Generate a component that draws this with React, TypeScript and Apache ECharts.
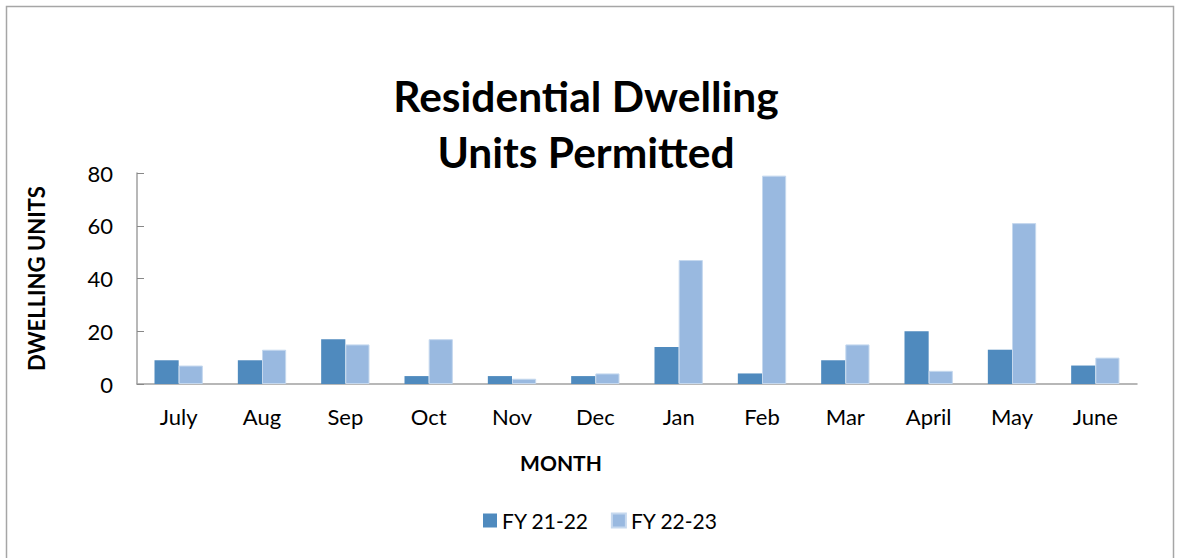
import React, { useEffect, useRef } from "react";
import * as echarts from "echarts";

const months = ["July", "Aug", "Sep", "Oct", "Nov", "Dec", "Jan", "Feb", "Mar", "April", "May", "June"];
const fy2122 = [9, 9, 17, 3, 3, 3, 14, 4, 9, 20, 13, 7];
const fy2223 = [7, 13, 15, 17, 2, 4, 47, 79, 15, 5, 61, 10];
const yTicks = { min: 0, max: 80, interval: 20 };

const FONT = "Lato, 'Open Sans', sans-serif";

export default function App() {
  const ref = useRef<HTMLDivElement>(null);
  useEffect(() => {
    if (!ref.current) return;
    const chart = echarts.init(ref.current, undefined, { renderer: "svg" });
    chart.setOption({
      animation: false,
      backgroundColor: "#ffffff",
      textStyle: { fontFamily: FONT },
      title: {
        text: "Residential Dwelling\nUnits Permitted",
        left: 581,
        textAlign: "center",
        top: 62,
        textStyle: { fontSize: 42.5, fontWeight: "bold", color: "#000", lineHeight: 56, fontFamily: FONT },
      },
      graphic: [
        {
          type: "rect",
          shape: { x: 6.5, y: 6.5, width: 1167, height: 560 },
          style: { fill: "none", stroke: "#a6a6a6", lineWidth: 1.5 },
          silent: true,
        },
        {
          type: "text",
          x: 561,
          y: 462,
          style: {
            text: "MONTH",
            fontSize: 21,
            fontWeight: "bold",
            fill: "#000",
            fontFamily: FONT,
            align: "center",
            verticalAlign: "middle",
          },
          silent: true,
        },
      ],
      legend: {
        bottom: 22,
        left: 478,
        itemWidth: 14,
        itemHeight: 14,
        itemGap: 22,
        icon: "rect",
        textStyle: { fontSize: 21, color: "#000", fontFamily: FONT },
        data: ["FY 21-22", "FY 22-23"],
      },
      grid: { left: 137, right: 41, top: 173, bottom: 174, containLabel: false },
      xAxis: {
        type: "category",
        data: months,
        axisLine: { lineStyle: { color: "#a0a0a0", width: 1.5 } },
        axisTick: { inside: true, length: 7, lineStyle: { color: "#888" } },
        axisLabel: { fontSize: 22, color: "#000", margin: 21, fontFamily: FONT },
      },
      yAxis: {
        type: "value",
        min: yTicks.min,
        max: yTicks.max,
        interval: yTicks.interval,
        name: "DWELLING UNITS",
        nameLocation: "middle",
        nameGap: 90,
        nameRotate: 90,
        nameTextStyle: { fontSize: 22, fontWeight: "bold", color: "#000", fontFamily: FONT },
        axisLine: { show: true, lineStyle: { color: "#a0a0a0", width: 1.5 } },
        axisTick: { show: true, inside: true, length: 7, lineStyle: { color: "#888" } },
        splitLine: { show: false },
        axisLabel: { fontSize: 22, color: "#000", margin: 24, fontFamily: FONT },
      },
      series: [
        {
          name: "FY 21-22",
          type: "bar",
          data: fy2122,
          barGap: "0%",
          barCategoryGap: "42%",
          itemStyle: { color: "#4f8abe" },
        },
        {
          name: "FY 22-23",
          type: "bar",
          data: fy2223,
          itemStyle: { color: "#99b9e0", borderColor: "#c5d8ee", borderWidth: 1 },
        },
      ],
    });
    return () => chart.dispose();
  }, []);
  return (
    <div style={{ position: "fixed", left: 0, top: 0, width: 1178, height: 558 }}>
      <div ref={ref} style={{ width: 1178, height: 558 }} />
    </div>
  );
}
